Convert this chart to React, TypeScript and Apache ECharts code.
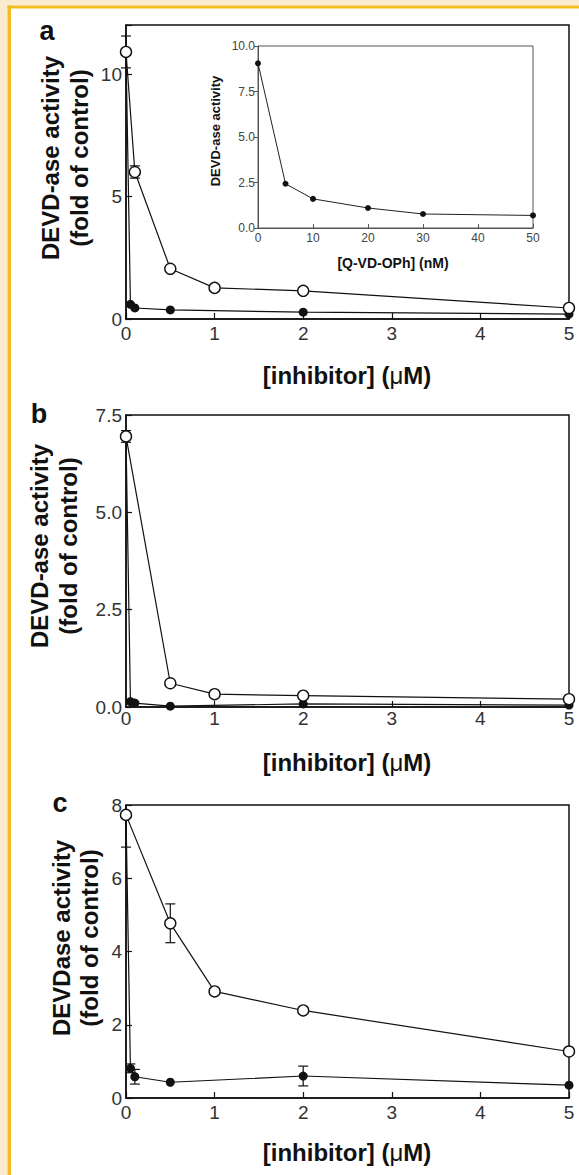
import React, { useEffect, useRef } from "react";
import * as echarts from "echarts";

const W = 579;
const H = 1175;
const FONT = '"Liberation Sans", Arial, Helvetica, sans-serif';

// ---------- Panel a ----------
const aOpenX = [0, 0.1, 0.5, 1, 2, 5];
const aOpenY = [10.9, 6.0, 2.05, 1.27, 1.15, 0.45];
const aOpenErr = [0.65, 0.25, 0, 0, 0, 0];
const aFillX = [0, 0.05, 0.1, 0.5, 2, 5];
const aFillY = [10.9, 0.6, 0.45, 0.37, 0.28, 0.2];
const aFillErr = [0, 0, 0, 0, 0, 0];
const aYTicks = [0, 5, 10];

// ---------- Inset of a ----------
const insetX = [0, 5, 10, 20, 30, 50];
const insetY = [9.05, 2.43, 1.6, 1.1, 0.77, 0.69];
const insetXTicks = [0, 10, 20, 30, 40, 50];
const insetYTicks = [0, 2.5, 5, 7.5, 10];

// ---------- Panel b ----------
const bOpenX = [0, 0.5, 1, 2, 5];
const bOpenY = [6.95, 0.61, 0.33, 0.29, 0.2];
const bOpenErr = [0.15, 0, 0, 0, 0];
const bFillX = [0, 0.05, 0.1, 0.5, 2, 5];
const bFillY = [6.95, 0.14, 0.1, 0.02, 0.08, 0.05];
const bFillErr = [0, 0, 0, 0, 0, 0];
const bYTicks = [0, 2.5, 5, 7.5];

// ---------- Panel c ----------
const cOpenX = [0, 0.5, 1, 2, 5];
const cOpenY = [7.73, 4.77, 2.91, 2.39, 1.27];
const cOpenErr = [0.88, 0.53, 0, 0, 0];
const cFillX = [0, 0.05, 0.1, 0.5, 2, 5];
const cFillY = [7.73, 0.81, 0.58, 0.43, 0.6, 0.35];
const cFillErr = [0, 0.12, 0.2, 0, 0.27, 0];
const cYTicks = [0, 2, 4, 6, 8];

const mainXTicks = [0, 1, 2, 3, 4, 5];

const pairs = (xs: number[], ys: number[]) => xs.map((x, i) => [x, ys[i]]);
const triples = (xs: number[], ys: number[], es: number[]) =>
  xs.map((x, i) => [x, ys[i], es[i]]);

function errRender(params: any, api: any) {
  const x = api.value(0);
  const y = api.value(1);
  const e = api.value(2);
  if (!e) return null;
  const cs = params.coordSys;
  const hi = api.coord([x, y + e]);
  const lo = api.coord([x, y - e]);
  const top = Math.max(hi[1], cs.y);
  const bot = Math.min(lo[1], cs.y + cs.height);
  const cap = 5;
  const st = { stroke: "#111", lineWidth: 1.2 };
  const children: any[] = [
    { type: "line", shape: { x1: hi[0], y1: top, x2: hi[0], y2: bot }, style: st },
  ];
  if (hi[1] >= cs.y)
    children.push({ type: "line", shape: { x1: hi[0] - cap, y1: hi[1], x2: hi[0] + cap, y2: hi[1] }, style: st });
  if (lo[1] <= cs.y + cs.height)
    children.push({ type: "line", shape: { x1: lo[0] - cap, y1: lo[1], x2: lo[0] + cap, y2: lo[1] }, style: st });
  return { type: "group", children };
}

function mainX(gridIndex: number, margin: number) {
  return {
    type: "value",
    gridIndex,
    min: mainXTicks[0],
    max: mainXTicks[mainXTicks.length - 1],
    interval: mainXTicks[1] - mainXTicks[0],
    axisLine: { show: true, onZero: false, lineStyle: { color: "#111", width: 1.5 } },
    axisTick: { show: true, inside: true, length: 6, lineStyle: { color: "#111", width: 1.2 } },
    axisLabel: { fontSize: 19, color: "#333", margin, fontFamily: FONT },
    splitLine: { show: false },
  };
}

function mainY(gridIndex: number, ticks: number[], max: number, decimals: number) {
  const interval = ticks[1] - ticks[0];
  return {
    type: "value",
    gridIndex,
    min: ticks[0],
    max,
    interval,
    axisLine: { show: true, onZero: false, lineStyle: { color: "#111", width: 1.5 } },
    axisTick: { show: true, inside: true, length: 6, lineStyle: { color: "#111", width: 1.2 } },
    axisLabel: {
      fontSize: 19,
      color: "#333",
      margin: 4,
      fontFamily: FONT,
      formatter: (v: number) =>
        ticks.some((t) => Math.abs(t - v) < 1e-9) ? v.toFixed(decimals) : "",
    },
    splitLine: { show: false },
  };
}

function panelSeries(
  idx: number,
  openX: number[], openY: number[], openErr: number[],
  fillX: number[], fillY: number[], fillErr: number[]
) {
  return [
    {
      type: "custom",
      xAxisIndex: idx,
      yAxisIndex: idx,
      renderItem: errRender,
      data: triples(fillX, fillY, fillErr),
      z: 1,
      clip: false,
    },
    {
      type: "custom",
      xAxisIndex: idx,
      yAxisIndex: idx,
      renderItem: errRender,
      data: triples(openX, openY, openErr),
      z: 1,
      clip: false,
    },
    {
      type: "line",
      xAxisIndex: idx,
      yAxisIndex: idx,
      data: pairs(fillX, fillY),
      symbol: "circle",
      symbolSize: 9,
      showAllSymbol: true,
      itemStyle: { color: "#111" },
      lineStyle: { color: "#111", width: 1.2 },
      clip: false,
      z: 2,
    },
    {
      type: "line",
      xAxisIndex: idx,
      yAxisIndex: idx,
      data: pairs(openX, openY),
      symbol: "circle",
      symbolSize: 11,
      showAllSymbol: true,
      itemStyle: { color: "#fff", borderColor: "#111", borderWidth: 1.4 },
      lineStyle: { color: "#111", width: 1.2 },
      clip: false,
      z: 3,
    },
  ];
}

function vText(text: string, x: number, y: number, size: number) {
  return {
    type: "text",
    x,
    y,
    rotation: Math.PI / 2,
    style: {
      text,
      font: `bold ${size}px ${FONT}`,
      fill: "#111",
      align: "center",
      verticalAlign: "middle",
      textAlign: "center",
      textVerticalAlign: "middle",
    },
  };
}

function hText(text: string, x: number, y: number, size: number, bold = true) {
  return {
    type: "text",
    x,
    y,
    style: {
      text,
      font: `${bold ? "bold " : ""}${size}px ${FONT}`,
      fill: "#111",
      align: "center",
      verticalAlign: "middle",
      textAlign: "center",
      textVerticalAlign: "middle",
    },
  };
}

function inhibitorLabel(x: number, y: number) {
  return {
    type: "text",
    x,
    y,
    style: {
      text: "{b|[inhibitor] (}{m|μ}{b|M)}",
      rich: {
        b: { font: `bold 24px ${FONT}`, fill: "#111" },
        m: { font: `24px ${FONT}`, fill: "#111" },
      },
      align: "center",
      verticalAlign: "middle",
      textAlign: "center",
      textVerticalAlign: "middle",
    },
  };
}

export default function App() {
  const ref = useRef<HTMLDivElement>(null);

  useEffect(() => {
    if (!ref.current) return;
    const chart = echarts.init(ref.current, undefined, { renderer: "svg", width: W, height: H });

    const grids = [
      { left: 126, top: 25, width: 443, height: 294 },
      { left: 258, top: 46, width: 275, height: 182 },
      { left: 126, top: 415, width: 443, height: 292 },
      { left: 126, top: 805, width: 443, height: 293 },
    ].map((g, i) => ({
      ...g,
      show: true,
      borderColor: i === 1 ? "#555" : "#111",
      borderWidth: i === 1 ? 1 : 1.5,
      backgroundColor: "transparent",
      containLabel: false,
      outerBoundsMode: "none",
    }));

    const option: any = {
      animation: false,
      backgroundColor: "#ffffff",
      grid: grids,
      xAxis: [
        mainX(0, 5),
        {
          type: "value",
          gridIndex: 1,
          min: insetXTicks[0],
          max: insetXTicks[insetXTicks.length - 1],
          interval: insetXTicks[1] - insetXTicks[0],
          axisLine: { show: true, onZero: false, lineStyle: { color: "#555", width: 1 } },
          axisTick: { show: true, inside: true, length: 4, lineStyle: { color: "#555", width: 1 } },
          axisLabel: { fontSize: 12, color: "#444", margin: 4, fontFamily: FONT },
          splitLine: { show: false },
        },
        mainX(2, 2),
        mainX(3, 5),
      ],
      yAxis: [
        mainY(0, aYTicks, 12, 0),
        {
          type: "value",
          gridIndex: 1,
          min: insetYTicks[0],
          max: insetYTicks[insetYTicks.length - 1],
          interval: insetYTicks[1] - insetYTicks[0],
          axisLine: { show: true, onZero: false, lineStyle: { color: "#555", width: 1 } },
          axisTick: { show: true, inside: false, length: 4, lineStyle: { color: "#555", width: 1 } },
          axisLabel: {
            fontSize: 12,
            color: "#444",
            margin: 3,
            fontFamily: FONT,
            formatter: (v: number) => v.toFixed(1),
          },
          splitLine: { show: false },
        },
        mainY(2, bYTicks, 7.5, 1),
        mainY(3, cYTicks, 8, 0),
      ],
      series: [
        ...panelSeries(0, aOpenX, aOpenY, aOpenErr, aFillX, aFillY, aFillErr),
        {
          type: "line",
          xAxisIndex: 1,
          yAxisIndex: 1,
          data: pairs(insetX, insetY),
          symbol: "circle",
          symbolSize: 6,
          showAllSymbol: true,
          itemStyle: { color: "#111" },
          lineStyle: { color: "#222", width: 1 },
          clip: false,
          z: 4,
        },
        ...panelSeries(2, bOpenX, bOpenY, bOpenErr, bFillX, bFillY, bFillErr),
        ...panelSeries(3, cOpenX, cOpenY, cOpenErr, cFillX, cFillY, cFillErr),
      ],
      graphic: [
        { type: "rect", shape: { x: 0, y: 0, width: W, height: 5.5 }, style: { fill: "#FBEBD1" }, silent: true },
        { type: "rect", shape: { x: 0, y: 0, width: 7.5, height: H }, style: { fill: "#FBEBD1" }, silent: true },
        { type: "rect", shape: { x: 7.5, y: 5.5, width: W - 7.5, height: 3 }, style: { fill: "#F3BC1F" }, silent: true },
        { type: "rect", shape: { x: 7.5, y: 5.5, width: 3.5, height: H - 5.5 }, style: { fill: "#F3BC1F" }, silent: true },

        hText("a", 47, 31, 27),
        hText("b", 39, 414, 27),
        hText("c", 60, 803, 27),

        vText("DEVD-ase activity", 50, 158, 24),
        vText("(fold of control)", 79, 158, 24),
        vText("DEVD-ase activity", 39, 546, 24),
        vText("(fold of control)", 68, 546, 24),
        vText("DEVDase activity", 61, 938, 24),
        vText("(fold of control)", 89, 938, 24),

        inhibitorLabel(347, 375),
        inhibitorLabel(347, 762),
        inhibitorLabel(347, 1152),

        vText("DEVD-ase activity", 215, 131, 13),
        hText("[Q-VD-OPh] (nM)", 393, 263, 14),
      ],
    };

    chart.setOption(option);
    return () => chart.dispose();
  }, []);

  return (
    <div
      ref={ref}
      style={{ position: "absolute", left: 0, top: 0, width: W, height: H, background: "#fff" }}
    />
  );
}
